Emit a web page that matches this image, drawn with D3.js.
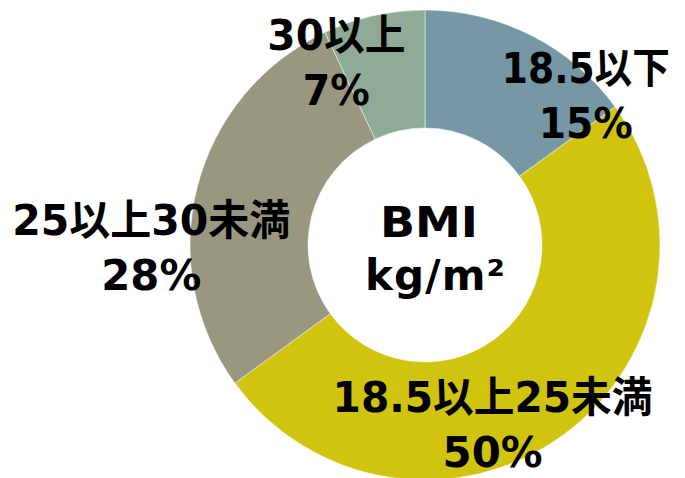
<!DOCTYPE html>
<html>
<head>
<meta charset="utf-8">
<script src="https://cdn.jsdelivr.net/npm/d3@7"></script>
<style>
  html, body { margin: 0; padding: 0; background: #fff; }
  svg { display: block; }
  text { font-family: "DejaVu Sans", "Noto Sans CJK JP", sans-serif; font-weight: bold; fill: #000; }
</style>
</head>
<body>
<svg id="chart" width="685" height="478"></svg>
<script>
// ---- data ----
const categories = ["18.5以下", "18.5以上25未満", "25以上30未満", "30以上"];
const values = [15, 50, 28, 7];
const percentLabels = ["15%", "50%", "28%", "7%"];
const centerTitle = ["BMI", "kg/m²"];

// ---- layout / style (kept separate from data) ----
const colors = ["#7698A5", "#D1C40F", "#9A9780", "#8FAB95"];
const W = 685, H = 478;
const cx = 425, cy = 245, outerR = 235, innerR = 117;
const labelR = 200;
// per-label nudges from the label-arc centroid (label block centre)
const labelNudge = [[70, 28], [-50, 17], [-80, 52], [-45, 12]];
const line1Len = [168, 320, 278, 138];
const line2Len = [94, 100, 100, 67];

const svg = d3.select("#chart");
const g = svg.append("g").attr("transform", `translate(${cx},${cy})`);

const pie = d3.pie().sort(null).value(d => d)(values);
const arc = d3.arc().innerRadius(innerR).outerRadius(outerR);
const labelArc = d3.arc().innerRadius(labelR).outerRadius(labelR);

g.selectAll("path.slice")
  .data(pie)
  .join("path")
  .attr("class", "slice")
  .attr("d", arc)
  .attr("fill", (d, i) => colors[i])
  .attr("stroke", "rgba(255,255,255,0.6)")
  .attr("stroke-width", 0.8);

const fs = 42;
const labels = g.selectAll("g.lab")
  .data(pie)
  .join("g")
  .attr("class", "lab")
  .attr("transform", (d, i) => {
    const [x, y] = labelArc.centroid(d);
    return `translate(${x + labelNudge[i][0]},${y + labelNudge[i][1]})`;
  });

labels.append("text")
  .attr("text-anchor", "middle")
  .attr("font-size", fs)
  .attr("y", -12)
  .attr("textLength", (d, i) => line1Len[i])
  .attr("lengthAdjust", "spacingAndGlyphs")
  .text((d, i) => categories[i]);

labels.append("text")
  .attr("text-anchor", "middle")
  .attr("font-size", fs)
  .attr("y", 43)
  .attr("textLength", (d, i) => line2Len[i])
  .attr("lengthAdjust", "spacingAndGlyphs")
  .text((d, i) => percentLabels[i]);

// centre title
g.append("text")
  .attr("text-anchor", "middle")
  .attr("x", 4).attr("y", -8)
  .attr("font-size", fs)
  .attr("textLength", 98)
  .attr("lengthAdjust", "spacingAndGlyphs")
  .text(centerTitle[0]);

g.append("text")
  .attr("text-anchor", "middle")
  .attr("x", 10).attr("y", 45)
  .attr("font-size", fs)
  .attr("textLength", 140)
  .attr("lengthAdjust", "spacing")
  .text(centerTitle[1]);
</script>
</body>
</html>
